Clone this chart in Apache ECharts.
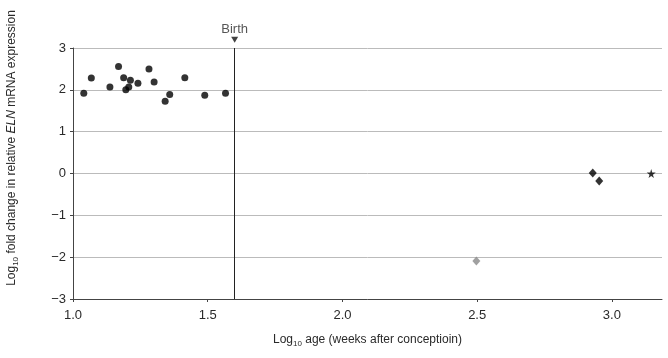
<!DOCTYPE html>
<html>
<head>
<meta charset="utf-8">
<script src="https://cdn.jsdelivr.net/npm/echarts@6/dist/echarts.min.js"></script>
<style>
html,body{margin:0;padding:0;background:#fff;}
#chart{width:668px;height:358px;}
</style>
</head>
<body>
<div id="chart"></div>
<script>
// Prenatal samples (black circles): [log10 age, log10 fold change]
var prenatalX = [1.040, 1.068, 1.137, 1.169, 1.188, 1.213, 1.196, 1.207, 1.241, 1.282, 1.301, 1.342, 1.359, 1.415, 1.489, 1.566];
var prenatalY = [1.92, 2.28, 2.07, 2.56, 2.29, 2.23, 2.00, 2.07, 2.16, 2.50, 2.19, 1.73, 1.89, 2.29, 1.87, 1.92];
// Postnatal samples (black diamonds)
var postnatalX = [2.929, 2.953];
var postnatalY = [0.01, -0.18];
// Grey diamond sample
var greyX = [2.497];
var greyY = [-2.09];
// Star sample
var starX = [3.146];
var starY = [0.0];
// Birth marker
var birthX = 1.6;
var birthArrowY = 3.2;
var birthLabel = 'Birth';
// Axes
var xTicks = [1.0, 1.5, 2.0, 2.5, 3.0];
var yTicks = [-3, -2, -1, 0, 1, 2, 3];

function pairs(xs, ys){ return xs.map(function(x,i){ return [x, ys[i]]; }); }

var FONT = '"Liberation Sans", Arial, sans-serif';
var TXT = '#2a2a2a';
var starPath = 'path://M50,0 L61,35 L98,35 L68,57 L79,91 L50,70 L21,91 L32,57 L2,35 L39,35 Z';

var chart = echarts.init(document.getElementById('chart'), null, {renderer:'canvas'});
chart.setOption({
  animation: false,
  backgroundColor: '#fff',
  grid: {left: 73, right: 6, top: 48, bottom: 59, containLabel: false},
  xAxis: {
    type: 'value',
    z: 5,
    min: xTicks[0], max: 3.186, interval: 0.5,
    axisLine: {show: true, onZero: false, lineStyle: {color: '#444', width: 1}},
    axisTick: {show: true, length: 3, inside: false, lineStyle: {color: '#444'}},
    splitLine: {show: false},
    axisLabel: {
      color: TXT, fontFamily: FONT, fontSize: 13, margin: 10,
      showMaxLabel: false,
      formatter: function(v){ return v.toFixed(1); }
    },
    name: '{n|Log}{s|10}{n| age (weeks after conceptioin)}',
    nameLocation: 'middle', nameGap: 33,
    nameTextStyle: {
      fontFamily: FONT, color: TXT,
      rich: {
        n: {fontSize: 12, fontFamily: FONT, color: TXT, lineHeight: 16, verticalAlign: 'middle'},
        s: {fontSize: 8, fontFamily: FONT, color: TXT, lineHeight: 8, verticalAlign: 'bottom'}
      }
    }
  },
  yAxis: {
    type: 'value',
    z: 5,
    min: yTicks[0], max: yTicks[yTicks.length-1], interval: 1,
    axisLine: {show: true, onZero: false, lineStyle: {color: '#444', width: 1}},
    axisTick: {show: true, length: 3, inside: false, lineStyle: {color: '#444'}},
    splitLine: {show: true, lineStyle: {color: '#bbbbbb', width: 1}},
    axisLabel: {
      color: TXT, fontFamily: FONT, fontSize: 13, margin: 7,
      formatter: function(v){ return String(v).replace('-', '\u2212'); }
    }
  },
  graphic: [{
    type: 'text',
    rotation: Math.PI/2,
    x: 12, y: 148,
    style: {
      text: '{n|Log}{s|10}{n| fold change in relative }{i|ELN}{n| mRNA expression}',
      align: 'center', verticalAlign: 'middle',
      rich: {
        n: {fontSize: 12, fontFamily: FONT, fill: TXT, lineHeight: 16, verticalAlign: 'middle'},
        i: {fontSize: 12, fontFamily: FONT, fill: TXT, fontStyle: 'italic', lineHeight: 16, verticalAlign: 'middle'},
        s: {fontSize: 8, fontFamily: FONT, fill: TXT, lineHeight: 8, verticalAlign: 'bottom'}
      }
    }
  }],
  series: [
    {
      type: 'scatter', name: 'prenatal', z: 10,
      data: pairs(prenatalX, prenatalY),
      symbol: 'circle', symbolSize: 7,
      itemStyle: {color: '#000'}
    },
    {
      type: 'scatter', name: 'postnatal', z: 10,
      data: pairs(postnatalX, postnatalY),
      symbol: 'diamond', symbolSize: [8, 9],
      itemStyle: {color: '#000'}
    },
    {
      type: 'scatter', name: 'grey', z: 10,
      data: pairs(greyX, greyY),
      symbol: 'diamond', symbolSize: [8, 9],
      itemStyle: {color: '#888'}
    },
    {
      type: 'scatter', name: 'star', z: 10,
      data: pairs(starX, starY),
      symbol: starPath, symbolSize: 9,
      itemStyle: {color: '#000'}
    },
    {
      type: 'scatter', name: 'birth', z: 10,
      clip: false,
      data: [[birthX, birthArrowY]],
      symbol: 'triangle', symbolRotate: 180, symbolSize: [7, 6],
      itemStyle: {color: '#111'},
      label: {
        show: true, position: 'top', distance: 1,
        formatter: birthLabel,
        fontFamily: FONT, fontSize: 13, color: TXT
      },
      markLine: {
        silent: true,
        symbol: ['none', 'none'],
        label: {show: false},
        lineStyle: {color: '#222', width: 1, type: 'solid'},
        data: [{xAxis: birthX}]
      }
    }
  ]
});
</script>
</body>
</html>
